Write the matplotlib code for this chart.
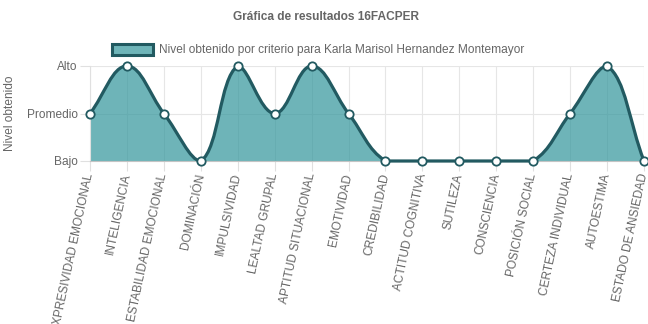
import numpy as np
import matplotlib
matplotlib.use("Agg")
import matplotlib.pyplot as plt
from matplotlib.path import Path
from matplotlib.patches import PathPatch, Rectangle

# data
criterios = ["EXPRESIVIDAD EMOCIONAL", "INTELIGENCIA", "ESTABILIDAD EMOCIONAL", "DOMINACIÓN",
             "IMPULSIVIDAD", "LEALTAD GRUPAL", "APTITUD SITUACIONAL", "EMOTIVIDAD",
             "CREDIBILIDAD", "ACTITUD COGNITIVA", "SUTILEZA", "CONSCIENCIA",
             "POSICIÓN SOCIAL", "CERTEZA INDIVIDUAL", "AUTOESTIMA", "ESTADO DE ANSIEDAD"]
niveles = ["Bajo", "Promedio", "Alto"]
valores = [1, 2, 1, 0, 2, 1, 2, 1, 0, 0, 0, 0, 0, 1, 2, 0]
titulo = "Gráfica de resultados 16FACPER"
serie = "Nivel obtenido por criterio para Karla Marisol Hernandez Montemayor"

plt.rcParams['font.family'] = ['Liberation Sans', 'DejaVu Sans']
gris = '#666666'
fs = 8.6
linea = '#225a61'
relleno = (49/255, 149/255, 155/255, 0.7)

W, H = 648, 324
fig = plt.figure(figsize=(W/100, H/100), dpi=100)
ax = fig.add_axes([90/W, 1-161/H, (644-90)/W, (161-66)/H])
n = len(valores)
x = np.arange(n)
ax.set_xlim(0, n-1)
ax.set_ylim(0, 2)

# curva tipo chart.js (tension 0.4), calculada en pixeles
pts = ax.transData.transform(np.column_stack([x, valores]))
bb = ax.bbox
t = 0.4
cprev, cnext = [], []
for i in range(n):
    p0 = pts[max(i-1, 0)]
    p1 = pts[i]
    p2 = pts[min(i+1, n-1)]
    d01 = np.hypot(*(p1-p0))
    d12 = np.hypot(*(p2-p1))
    s = d01 + d12
    s01 = d01/s if s else 0
    s12 = d12/s if s else 0
    a = p1 - t*s01*(p2-p0)
    b = p1 + t*s12*(p2-p0)
    # limitar puntos de control al area del grafico
    a = np.clip(a, [bb.x0, bb.y0], [bb.x1, bb.y1])
    b = np.clip(b, [bb.x0, bb.y0], [bb.x1, bb.y1])
    cprev.append(a)
    cnext.append(b)

verts = [pts[0]]
codes = [Path.MOVETO]
for i in range(n-1):
    verts += [cnext[i], cprev[i+1], pts[i+1]]
    codes += [Path.CURVE4]*3
inv = ax.transData.inverted()
dverts = inv.transform(np.array(verts))

curva = Path(dverts, codes)
fill_verts = np.vstack([dverts, [[n-1, 0], [0, 0], dverts[0]]])
fill_codes = codes + [Path.LINETO, Path.LINETO, Path.CLOSEPOLY]
ax.add_patch(PathPatch(Path(fill_verts, fill_codes), facecolor=relleno, edgecolor='none', zorder=2))
ax.add_patch(PathPatch(curva, facecolor='none', edgecolor=linea, lw=2.3, zorder=3,
                       clip_on=False, capstyle='round', joinstyle='round'))
ax.plot(x, valores, 'o', ms=6, mfc='white', mec=linea, mew=1.3, zorder=4, clip_on=False)

# ejes
ax.set_yticks([0, 1, 2])
ax.set_yticklabels(niveles, fontsize=fs, color=gris)
ax.set_xticks(x)
ax.set_xticklabels(criterios, fontsize=fs, color=gris, rotation=78,
                   ha='right', va='center', rotation_mode='anchor')
ax.tick_params(axis='both', length=7, color='#e0e0e0', width=0.8)
ax.tick_params(axis='x', pad=2)
ax.tick_params(axis='y', pad=2)
ax.grid(True, color='#e6e6e6', lw=0.8, zorder=0)
ax.set_axisbelow(True)
for sp in ['top', 'right']:
    ax.spines[sp].set_visible(False)
ax.spines['left'].set_color('#e0e0e0')
ax.spines['bottom'].set_color('#c4c4c4')

fig.text(10/W, 1-113/H, "Nivel obtenido", rotation=90, fontsize=fs, color=gris,
         ha='center', va='center')
fig.text(326/W, 1-17/H, titulo, fontsize=fs, color=gris, fontweight='bold',
         ha='center', va='center')
fig.add_artist(Rectangle((112/W, 1-55/H), 41/W, 11/H, transform=fig.transFigure,
                         facecolor='#6fb5b9', edgecolor=linea, lw=2.2))
fig.text(159/W, 1-49.5/H, serie, fontsize=fs, color=gris, ha='left', va='center')

fig.savefig("out.png", dpi=100)
